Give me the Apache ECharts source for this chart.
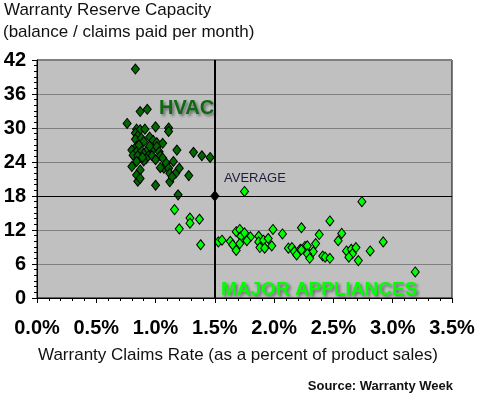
<!DOCTYPE html>
<html><head><meta charset="utf-8">
<script src="https://cdn.jsdelivr.net/npm/echarts/dist/echarts.min.js"></script>
<style>html,body{margin:0;padding:0;background:#fff}#c{width:480px;height:400px}</style>
</head><body><div id="c"></div>
<script>
const titleLines = ["Warranty Reserve Capacity", "(balance / claims paid per month)"];
const xAxisName = "Warranty Claims Rate (as a percent of product sales)";
const sourceText = "Source: Warranty Week";
const xTicks = [0, 0.5, 1.0, 1.5, 2.0, 2.5, 3.0, 3.5];
const yTicks = [0, 6, 12, 18, 24, 30, 36, 42];
const average = [1.5, 18];
const hvac = [
 [0.83,40.4],[0.87,32.9],[0.93,33.3],[0.76,30.8],[1.00,30.2],[1.11,30.0],[1.11,29.4],
 [0.84,29.8],[0.87,29.7],[0.91,29.8],[0.83,29.1],[0.85,28.6],[0.83,28.0],[0.88,28.2],
 [0.90,27.6],[0.95,28.4],[0.98,27.8],[1.01,27.4],[1.06,27.3],[0.84,26.8],[0.80,26.1],
 [0.84,25.8],[0.88,26.0],[0.93,26.1],[0.98,26.4],[1.01,26.7],[1.03,25.8],[0.81,25.2],
 [0.85,25.1],[0.90,25.4],[0.94,25.1],[0.97,25.1],[1.04,25.1],[1.06,24.7],[0.92,24.6],
 [1.00,24.4],[1.18,26.1],[1.32,25.7],[1.39,25.1],[1.46,24.8],[0.84,24.1],[0.90,24.2],
 [0.80,23.2],[0.87,22.6],[0.84,21.7],[0.85,20.6],[0.87,21.1],[1.00,19.9],[1.07,22.9],
 [1.09,23.8],[1.15,24.1],[1.11,22.9],[1.12,22.0],[1.17,22.0],[1.20,22.9],[1.12,20.5],
 [1.14,21.4],[1.28,21.6],[1.19,18.2],[0.86,27.0],[0.95,26.8],[0.89,24.8],[1.04,23.0]
];
const appliances = [
 [1.75,18.8],[1.16,15.6],[1.29,14.1],[1.29,13.2],[1.37,13.9],[1.20,12.2],[1.38,9.4],
 [1.53,9.9],[1.56,10.2],[1.63,10.0],[1.65,9.4],[1.68,8.4],[1.68,11.7],[1.71,12.1],
 [1.72,10.9],[1.71,9.6],[1.75,11.5],[1.80,10.8],[1.77,10.1],[1.87,10.9],[1.87,9.9],
 [1.90,9.4],[1.91,10.2],[1.88,8.9],[1.92,8.8],[1.95,10.5],[1.99,12.1],[1.98,9.2],
 [2.07,11.3],[2.23,12.4],[2.12,8.8],[2.15,8.9],[2.17,8.2],[2.19,7.6],[2.22,8.6],
 [2.26,9.1],[2.27,8.4],[2.74,17.0],[2.47,13.6],[2.38,11.2],[2.57,11.4],[2.54,10.1],
 [2.35,9.6],[2.28,9.2],[2.33,8.2],[2.28,7.8],[2.30,7.0],[2.23,8.5],[2.41,7.4],
 [2.43,7.2],[2.47,7.0],[2.61,8.3],[2.65,8.6],[2.69,8.9],[2.66,7.8],[2.63,7.2],
 [2.71,6.6],[2.81,8.3],[2.92,9.9],[3.19,4.6]
];
const labelHVAC = "HVAC";
const labelAppl = "MAJOR APPLIANCES";
const labelAvg = "AVERAGE";

const narrow = '"Liberation Sans Narrow","Arial Narrow","Liberation Sans",sans-serif';
const sans = '"Liberation Sans",Arial,sans-serif';
const chart = echarts.init(document.getElementById('c'), null, {renderer: 'canvas'});
const sym = [8, 10];
chart.setOption({
  animation: false,
  grid: {left: 37, right: 28, top: 60, bottom: 102, show: true, backgroundColor: '#c0c0c0', borderColor: '#000', borderWidth: 1},
  xAxis: {
    type: 'value', min: xTicks[0], max: xTicks[xTicks.length - 1], interval: 0.5,
    axisLine: {show: true, onZero: false, lineStyle: {color: '#000', width: 1}},
    axisTick: {show: true, length: 5, lineStyle: {color: '#000'}},
    minorTick: {show: true, splitNumber: 5, length: 3, lineStyle: {color: '#000'}},
    splitLine: {show: false},
    axisLabel: {formatter: v => v.toFixed(1) + '%', color: '#000', fontFamily: narrow, fontWeight: 'bold', fontSize: 20, margin: 20}
  },
  yAxis: {
    type: 'value', min: yTicks[0], max: yTicks[yTicks.length - 1], interval: 6,
    axisLine: {show: true, lineStyle: {color: '#000', width: 1}},
    axisTick: {show: true, length: 5, lineStyle: {color: '#000'}},
    minorTick: {show: true, splitNumber: 6, length: 3, lineStyle: {color: '#000'}},
    splitLine: {show: true, lineStyle: {color: '#808080', width: 1}},
    axisLabel: {color: '#000', fontFamily: narrow, fontWeight: 'bold', fontSize: 20, margin: 11}
  },
  graphic: [
    {type: 'text', left: 4, top: 2, style: {text: titleLines[0], font: '17px ' + sans, fill: '#111'}},
    {type: 'text', left: 3, top: 24, style: {text: titleLines[1], font: '17px ' + sans, fill: '#111'}},
    {type: 'text', left: 38, top: 347, style: {text: xAxisName, font: '17px ' + sans, fill: '#111'}},
    {type: 'text', right: 27, top: 380, style: {text: sourceText, font: 'bold 13px ' + sans, fill: '#111'}},
    {type: 'text', left: 159, top: 98, z: 10, style: {text: labelHVAC, font: 'bold 20px ' + sans, fill: '#0b6a12', textShadowColor: 'rgba(0,0,0,0.45)', textShadowBlur: 3, textShadowOffsetX: 2, textShadowOffsetY: 2}},
    {type: 'text', left: 221, top: 280, z: 10, style: {text: labelAppl, font: 'bold 19px ' + sans, fill: '#00ff00', textShadowColor: 'rgba(0,0,0,0.45)', textShadowBlur: 3, textShadowOffsetX: 2, textShadowOffsetY: 2}},
    {type: 'text', left: 224, top: 172, z: 10, style: {text: labelAvg, font: '13px ' + sans, fill: '#1c1c3c'}}
  ],
  series: [
    {
      type: 'scatter', data: hvac, symbol: 'diamond', symbolSize: sym,
      itemStyle: {color: '#006a00', borderColor: '#000', borderWidth: 1, opacity: 1},
      markLine: {
        silent: true, symbol: 'none', label: {show: false},
        data: [
          {xAxis: average[0], lineStyle: {color: '#000', width: 2, type: 'solid'}},
          {yAxis: average[1], lineStyle: {color: '#000', width: 1, type: 'solid'}}
        ]
      }
    },
    {
      type: 'scatter', data: appliances, symbol: 'diamond', symbolSize: sym,
      itemStyle: {color: '#00ff00', borderColor: '#000', borderWidth: 1, opacity: 1}
    },
    {
      type: 'scatter', data: [average], symbol: 'diamond', symbolSize: [8, 10],
      itemStyle: {color: '#000', borderColor: '#000', borderWidth: 1, opacity: 1}
    }
  ]
});
</script></body></html>
